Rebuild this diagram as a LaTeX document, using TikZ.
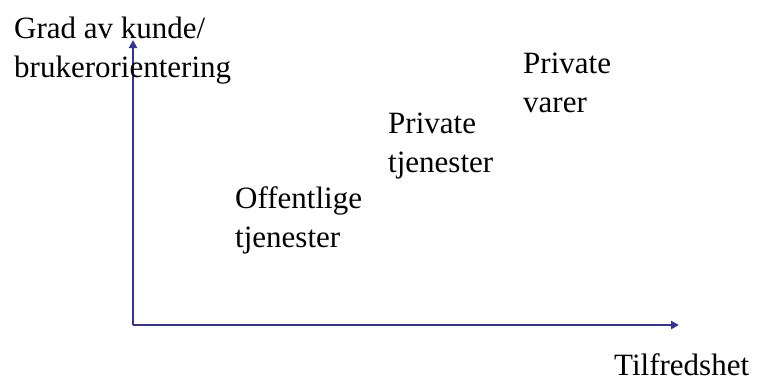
\documentclass[tikz,border=0pt]{standalone}
\usepackage{fontspec}
\setmainfont{Liberation Serif}
\usetikzlibrary{arrows.meta}
\definecolor{axisblue}{RGB}{51,51,153}
\begin{document}
\begin{tikzpicture}[x=1pt,y=-1pt,
  lbl/.style={anchor=base west,inner sep=0pt,align=left,font=\fontsize{31}{39}\selectfont},
  axis/.style={draw=axisblue,line width=2.6pt,-{Triangle[length=8pt,width=8pt]}}]
\useasboundingbox (0,0) rectangle (757,383);
\coordinate (origin) at (133,325);
\coordinate (ytop) at (133,40);
\coordinate (xend) at (679,325);
\draw[axis] (origin) -- (ytop);
\draw[axis] (origin) -- (xend);
\node[lbl] (ylab) at (14,77) {Grad av kunde/\\brukerorientering};
\node[lbl] (xlab) at (614,375) {Tilfredshet};
\node[lbl] (pv) at (523,112) {Private\\varer};
\node[lbl] (pt) at (388,172) {Private\\tjenester};
\node[lbl] (ot) at (235,247) {Offentlige\\tjenester};
\end{tikzpicture}
\end{document}
